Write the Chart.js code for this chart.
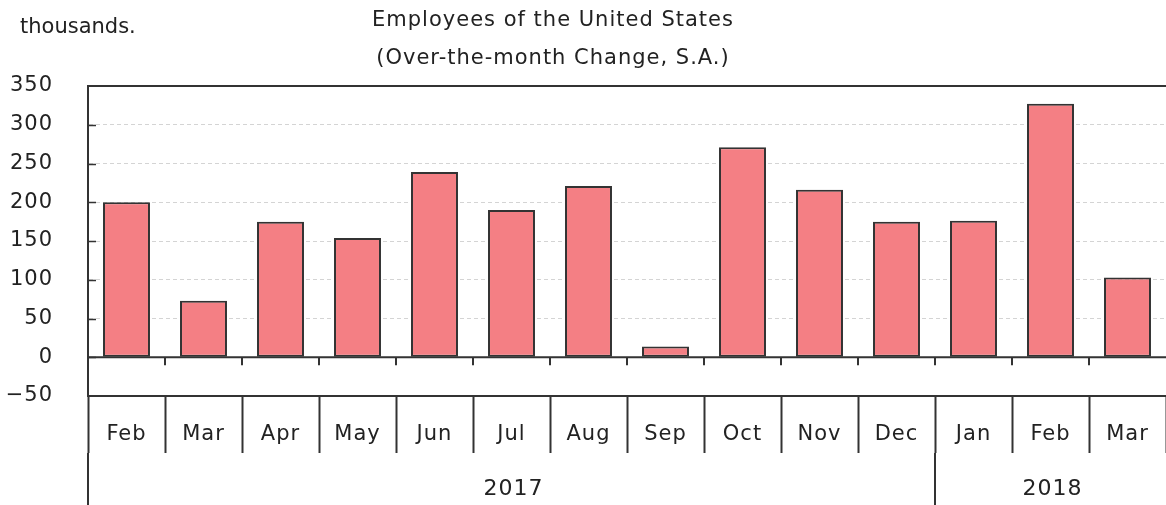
<!DOCTYPE html>
<html>
<head>
<meta charset="utf-8">
<script src="https://cdn.jsdelivr.net/npm/chart.js@4/dist/chart.umd.min.js"></script>
<style>
  body { margin: 0; background: #fff; }
  #chart-wrap { width: 1166px; height: 505px; }
</style>
</head>
<body>
<div id="chart-wrap"><canvas id="my-chart" width="1166" height="505"></canvas></div>
<script>
'use strict';

// ************************* DATA ***************************

let months = ['Feb', 'Mar', 'Apr', 'May', 'Jun', 'Jul', 'Aug', 'Sep', 'Oct', 'Nov', 'Dec', 'Jan', 'Feb', 'Mar'];
let years = ['2017', '2017', '2017', '2017', '2017', '2017', '2017', '2017', '2017', '2017', '2017', '2018', '2018', '2018'];
let changes = [200, 73, 175, 154, 239, 190, 221, 14, 271, 216, 175, 176, 327, 103];
let yTicks = [-50, 0, 50, 100, 150, 200, 250, 300, 350];

let titleLines = ['Employees of the United States', '(Over-the-month Change, S.A.)'];
let unitLabel = 'thousands.';

// ************************* STYLE ***************************

let fontFamily = '"DejaVu Sans", Verdana, sans-serif';
let ink = '#222';
let lineColor = '#333';

// ********************** EXTRA DRAWING **********************

let decorPlugin = {
  id: 'decor',
  beforeDraw(chart) {
    // the reference text is a little wider than DejaVu
    chart.ctx.letterSpacing = '1px';
  },
  afterDraw(chart) {
    let ctx = chart.ctx;
    let area = chart.chartArea;
    let x = chart.scales.x;
    let y = chart.scales.y;
    let zeroY = y.getPixelForValue(0);

    ctx.save();
    ctx.strokeStyle = lineColor;

    // top frame line and zero line
    ctx.lineWidth = 2;
    ctx.beginPath();
    ctx.moveTo(area.left, area.top);
    ctx.lineTo(area.right, area.top);
    ctx.moveTo(area.left, zeroY);
    ctx.lineTo(area.right, zeroY);
    ctx.stroke();

    // inward ticks on the y axis
    ctx.lineWidth = 1.5;
    ctx.beginPath();
    for (let v of yTicks) {
      if (v <= -50 || v >= 350) continue;
      let py = Math.round(y.getPixelForValue(v)) + 0.5;
      ctx.moveTo(area.left, py);
      ctx.lineTo(area.left + 8, py);
    }
    ctx.stroke();

    // ticks below the zero line between months
    ctx.lineWidth = 2;
    ctx.beginPath();
    for (let i = 1; i < months.length; i++) {
      let bx = (x.getPixelForTick(i - 1) + x.getPixelForTick(i)) / 2;
      ctx.moveTo(bx, zeroY);
      ctx.lineTo(bx, zeroY + 8);
    }
    ctx.stroke();

    // year row
    let rowTop = x.top + 57;
    let rowBottom = chart.height;
    ctx.beginPath();
    ctx.moveTo(area.left, rowTop);
    ctx.lineTo(area.left, rowBottom);
    let start = 0;
    ctx.font = '22px ' + fontFamily;
    ctx.fillStyle = ink;
    ctx.textAlign = 'center';
    ctx.textBaseline = 'middle';
    for (let i = 1; i <= years.length; i++) {
      if (i === years.length || years[i] !== years[start]) {
        let leftX = start === 0 ? area.left : (x.getPixelForTick(start - 1) + x.getPixelForTick(start)) / 2;
        let rightX = i === years.length ? area.right : (x.getPixelForTick(i - 1) + x.getPixelForTick(i)) / 2;
        if (i < years.length) {
          ctx.moveTo(rightX, rowTop);
          ctx.lineTo(rightX, rowBottom);
        }
        ctx.fillText(years[start], (leftX + rightX) / 2 + 2, 489);
        start = i;
      }
    }
    ctx.stroke();

    // title and unit
    ctx.font = '21px ' + fontFamily;
    ctx.fillText(titleLines[0], 553, 21);
    ctx.fillText(titleLines[1], 553, 59);
    ctx.letterSpacing = '0px';
    ctx.textAlign = 'left';
    ctx.fillText(unitLabel, 20, 28);

    ctx.restore();
  }
};

// ************************* CHART ***************************

let ctx = document.getElementById('my-chart').getContext('2d');

let myChartObj = {
  type: 'bar',
  data: {
    labels: months,
    datasets: [{
      label: 'Over-the-month change',
      data: changes,
      backgroundColor: '#f47f84',
      borderColor: lineColor,
      borderWidth: 2,
      borderSkipped: false,
      barPercentage: 0.61,
      categoryPercentage: 1
    }]
  },
  options: {
    responsive: false,
    animation: false,
    layout: {
      padding: { top: 86, left: 0, right: 0, bottom: 0 }
    },
    plugins: {
      legend: { display: false },
      tooltip: { enabled: false }
    },
    scales: {
      x: {
        offset: true,
        afterFit(scale) { scale.height = 109; },
        grid: {
          offset: true,
          drawOnChartArea: false,
          drawTicks: true,
          tickLength: 57,
          tickColor: lineColor,
          tickWidth: 2
        },
        border: { display: true, color: lineColor, width: 2 },
        ticks: {
          color: ink,
          font: { family: fontFamily, size: 21 },
          padding: -31,
          maxRotation: 0,
          autoSkip: false
        }
      },
      y: {
        min: -50,
        max: 350,
        afterFit(scale) { scale.width = 88; },
        afterBuildTicks(scale) {
          scale.ticks = yTicks.map(v => ({ value: v }));
        },
        grid: {
          drawTicks: false,
          lineWidth: 1,
          color(c) {
            let v = c.tick ? c.tick.value : null;
            return (v > 0 && v < 350) ? '#d4d4d4' : 'rgba(0,0,0,0)';
          }
        },
        border: { display: true, color: lineColor, width: 2, dash: [4, 3] },
        ticks: {
          color: ink,
          font: { family: fontFamily, size: 21 },
          padding: 35,
          callback(v) { return v < 0 ? '\u2212' + Math.abs(v) : String(v); }
        }
      }
    }
  },
  plugins: [decorPlugin]
};

new Chart(ctx, myChartObj);
</script>
</body>
</html>
